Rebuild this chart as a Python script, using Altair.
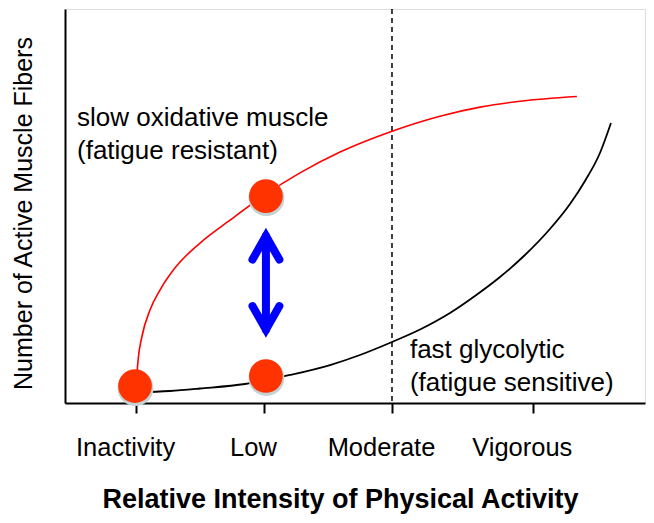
import altair as alt
import pandas as pd

# ---- data ----
tick_values = [1, 2, 3, 4.1]
tick_labels = ["Inactivity", "Low", "Moderate", "Vigorous"]

red_x = [1.000, 1.016, 1.047, 1.109, 1.188, 1.305, 1.500, 1.734, 1.992,
         2.281, 2.594, 2.984, 3.375, 3.688, 4.000, 4.445]
red_y = [3.8, 10.9, 17.0, 23.6, 28.7, 34.3, 40.6, 46.4, 52.5,
         58.4, 63.7, 68.8, 72.8, 75.1, 76.6, 77.8]

black_x = [1.000, 1.266, 1.500, 1.852, 2.203, 2.516, 2.750, 3.000, 3.219,
           3.453, 3.648, 3.844, 4.039, 4.234, 4.391, 4.508, 4.625, 4.711]
black_y = [2.67, 3.05, 3.68, 4.82, 7.11, 9.64, 12.18, 15.48, 18.65,
           22.84, 27.16, 31.98, 37.56, 44.16, 50.51, 56.35, 63.45, 71.07]

dot_x = [0.992, 2.015, 2.015]
dot_y = [4.3, 52.5, 6.85]

moderate_x = [3.0]

# double arrow: segment id, order, x, y
arrow_seg = ["top", "top", "top", "shaft", "shaft", "bot", "bot", "bot"]
arrow_ord = [0, 1, 2, 0, 1, 0, 1, 2]
arrow_x = [1.910, 2.015, 2.120, 2.015, 2.015, 1.910, 2.015, 2.120]
arrow_y = [36.4, 42.4, 36.4, 42.4, 18.6, 24.6, 18.6, 24.6]

text_x = [0.539, 0.539, 3.140, 3.140]
text_y = [70.4, 62.0, 11.4, 3.0]
text_s = ["slow oxidative muscle", "(fatigue resistant)",
          "fast glycolytic", "(fatigue sensitive)"]

FONT = "Liberation Sans"

red_df = pd.DataFrame({"x": red_x, "y": red_y})
black_df = pd.DataFrame({"x": black_x, "y": black_y})
dot_df = pd.DataFrame({"x": dot_x, "y": dot_y})
mod_df = pd.DataFrame({"x": moderate_x})
arrow_df = pd.DataFrame({"seg": arrow_seg, "o": arrow_ord, "x": arrow_x, "y": arrow_y})
text_df = pd.DataFrame({"x": text_x, "y": text_y, "t": text_s})

label_expr = "''"
for v, l in reversed(list(zip(tick_values, tick_labels))):
    label_expr = f"datum.value == {v} ? '{l}' : ({label_expr})"

xscale = alt.Scale(domain=[0.445, 4.977], nice=False, zero=False)
yscale = alt.Scale(domain=[0, 100], nice=False)

xaxis = alt.Axis(
    values=tick_values, labelExpr=label_expr, grid=False,
    domainColor="black", domainWidth=2, tickColor="black", tickWidth=2, tickSize=10,
    labelFont=FONT, labelFontSize=25.5, labelColor="black", labelPadding=22, labelOffset=-11,
    title="Relative Intensity of Physical Activity", titleFont=FONT, titleFontSize=27,
    titleFontWeight="bold", titleColor="black", titleX=275, titleY=104,
    titleBaseline="alphabetic", labelFlush=False, labelOverlap=False,
)
yaxis = alt.Axis(
    labels=False, ticks=False, grid=False, domainColor="black", domainWidth=2,
    title="Number of Active Muscle Fibers", titleFont=FONT, titleFontSize=25,
    titleFontWeight="normal", titleColor="black", titleX=-34, titleY=204,
    titleBaseline="alphabetic", titleAngle=270,
)

base_x = alt.X("x:Q", scale=xscale, axis=xaxis)
base_y = alt.Y("y:Q", scale=yscale, axis=yaxis)

rule = alt.Chart(mod_df).mark_rule(color="black", strokeDash=[5, 4], strokeWidth=1.5).encode(
    x=alt.X("x:Q", scale=xscale, axis=xaxis)
)
red_line = alt.Chart(red_df).mark_line(color="#ff0000", strokeWidth=1.6, interpolate="monotone").encode(
    x=base_x, y=base_y
)
black_line = alt.Chart(black_df).mark_line(color="black", strokeWidth=1.8, interpolate="monotone").encode(
    x=base_x, y=base_y
)
shadow = alt.Chart(dot_df).mark_circle(color="#c3d2d2", opacity=1, size=1290, yOffset=2, xOffset=0.5).encode(
    x=base_x, y=base_y
)
dots = alt.Chart(dot_df).mark_circle(color="#ff3300", opacity=1, size=1134).encode(
    x=base_x, y=base_y
)
arrow = alt.Chart(arrow_df).mark_line(color="#0000ff", strokeWidth=8, strokeCap="round",
                                      strokeJoin="miter").encode(
    x=base_x, y=base_y, detail="seg:N", order="o:Q"
)
texts = alt.Chart(text_df).mark_text(align="left", baseline="alphabetic", font=FONT,
                                     fontSize=26, color="black").encode(
    x=base_x, y=base_y, text="t:N"
)

chart = alt.layer(rule, red_line, black_line, shadow, dots, arrow, texts).properties(
    width=580, height=394,
    autosize=alt.AutoSizeParams(type="none"),
    padding={"left": 57, "top": 1, "right": 1, "bottom": 112},
).configure_view(stroke="black", strokeWidth=2).configure(background="white")

chart.save("out.html", embed_options={"renderer": "svg", "actions": False})
